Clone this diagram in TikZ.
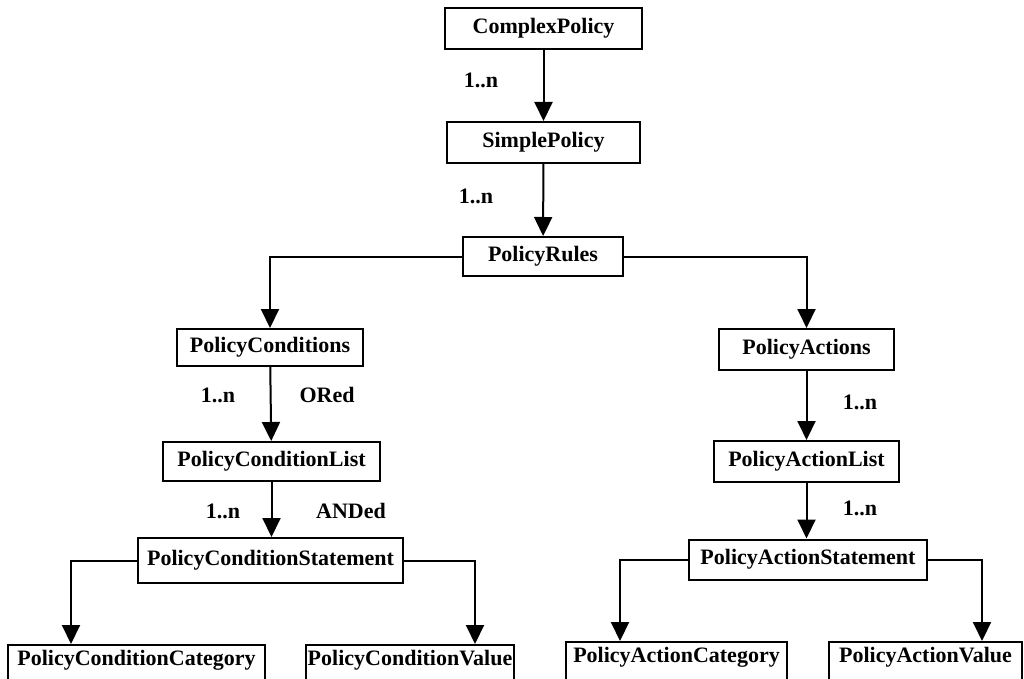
\documentclass[tikz,border=0pt]{standalone}
\usepackage{fontspec}
\setmainfont{Liberation Serif}
\usetikzlibrary{arrows.meta}
\begin{document}
\begin{tikzpicture}[x=1pt,y=-1pt,
  box/.style={draw,line width=2pt,inner sep=0pt,font=\fontsize{22}{24}\selectfont\bfseries},
  lowbox/.style={draw,line width=2pt,inner xsep=0pt,inner ysep=6pt,anchor=base,
    text height=14pt,text depth=40pt,font=\fontsize{22}{24}\selectfont\bfseries},
  lbl/.style={font=\fontsize{22}{24}\selectfont\bfseries,inner sep=0pt},
  arr/.style={line width=2pt,-{Triangle[width=18pt,length=19pt]}}]
\clip (0,0) rectangle (1024,679);
\fill[white] (0,0) rectangle (1024,679);
% nodes
\node[box,minimum width=197pt,minimum height=41pt] (cp) at (543.5,28.5) {ComplexPolicy};
\node[box,minimum width=193pt,minimum height=41pt] (sp) at (543.5,142.5) {SimplePolicy};
\node[box,minimum width=160pt,minimum height=39pt] (pr) at (543,256.5) {PolicyRules};
\node[box,minimum width=186pt,minimum height=37pt] (pc) at (270,347.5) {PolicyConditions};
\node[box,minimum width=217pt,minimum height=39pt] (pcl) at (271.5,461.5) {PolicyConditionList};
\node[box,minimum width=265pt,minimum height=45pt] (pcs) at (270.5,560.5) {PolicyConditionStatement};
\node[box,minimum width=175pt,minimum height=41pt] (pa) at (806.5,349.5) {PolicyActions};
\node[box,minimum width=185pt,minimum height=41pt] (pal) at (806.5,461.5) {PolicyActionList};
\node[box,minimum width=238pt,minimum height=40pt] (pas) at (808,559.5) {PolicyActionStatement};
\node[lowbox,minimum width=257pt] (pcc) at (136.5,665) {PolicyConditionCategory};
\node[lowbox,minimum width=208pt] (pcv) at (410,665) {PolicyConditionValue};
\node[lowbox,minimum width=221pt] (pac) at (676.5,662) {PolicyActionCategory};
\node[lowbox,minimum width=193pt] (pav) at (925.5,662) {PolicyActionValue};
% labels
\node[lbl] (l1) at (481,80) {1..n};
\node[lbl] (l2) at (476,196) {1..n};
\node[lbl] (l3) at (218,395) {1..n};
\node[lbl] (l4) at (327,395) {ORed};
\node[lbl] (l5) at (223,511) {1..n};
\node[lbl] (l6) at (351,511) {ANDed};
\node[lbl] (l7) at (860,402) {1..n};
\node[lbl] (l8) at (860,508) {1..n};
% connectors
\draw[arr] (cp) -- (sp);
\draw[arr] (sp) -- (pr);
\draw[arr] (pr.west) -| (pc.north);
\draw[arr] (pr.east) -| (pa.north);
\draw[arr] (pc) -- (pcl);
\draw[arr] (pcl.south) -- (pcl.south |- pcs.north);
\draw[arr] (pa) -- (pal);
\draw[arr] (pal.south) -- (pal.south |- pas.north);
\draw[arr] (pcs.west) -| ([xshift=-65.5pt]pcc.north);
\draw[arr] (pcs.east) -| ([xshift=65pt]pcv.north);
\draw[arr] (pas.west) -| ([xshift=-56.5pt]pac.north);
\draw[arr] (pas.east) -| ([xshift=56.5pt]pav.north);
\end{tikzpicture}
\end{document}
